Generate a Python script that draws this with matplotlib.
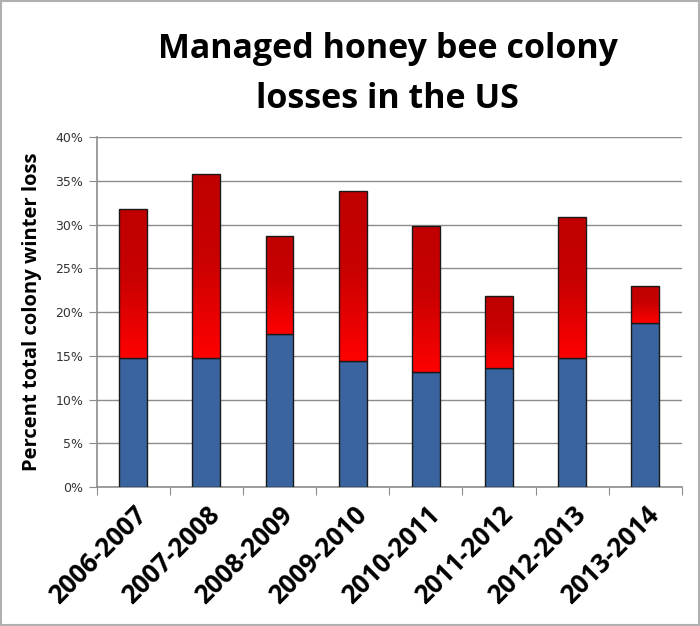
import numpy as np
import matplotlib
matplotlib.use("Agg")
import matplotlib.pyplot as plt
from matplotlib.colors import LinearSegmentedColormap
from matplotlib.patches import Rectangle

# winter seasons and losses (percent)
seasons = ['2006-2007', '2007-2008', '2008-2009', '2009-2010',
           '2010-2011', '2011-2012', '2012-2013', '2013-2014']
total_loss = [31.8, 35.8, 28.7, 33.8, 29.8, 21.8, 30.9, 23.0]
acceptable_loss = [14.7, 14.7, 17.5, 14.4, 13.1, 13.6, 14.8, 18.8]
title_lines = ['Managed honey bee colony', 'losses in the US']

plt.rcParams['font.family'] = ['Open Sans', 'DejaVu Sans']

fig = plt.figure(figsize=(7.0, 6.26), dpi=100)
ax = fig.add_axes([0.138, 0.222, 0.836, 0.559])

x = np.arange(len(seasons))
w = 0.38
blue = ax.bar(x, acceptable_loss, width=w, color='#3A64A0', edgecolor='#1a1a1a',
              linewidth=1.0, zorder=3)
extra = np.array(total_loss) - np.array(acceptable_loss)
red = ax.bar(x, extra, width=w, bottom=acceptable_loss, color='none',
             edgecolor='#1a1a1a', linewidth=1.0, zorder=4)

# gradient fill for the red part (bright at bottom, darker at top)
cmap = LinearSegmentedColormap.from_list(
    'redgrad', [(0.0, '#FF0000'), (0.55, '#C80000'), (1.0, '#C00000')])
grad = np.linspace(0, 1, 256).reshape(-1, 1)
for b in red:
    x0, y0 = b.get_x(), b.get_y()
    im = ax.imshow(grad, cmap=cmap, aspect='auto', origin='lower',
                   extent=[x0, x0 + b.get_width(), y0, y0 + b.get_height()],
                   zorder=3.5)
    im.set_clip_path(b)

ax.set_xlim(-0.5, len(seasons) - 0.5)
ax.set_ylim(0, 40)
ax.set_yticks(np.arange(0, 41, 5))
ax.set_yticklabels([f'{v}%' for v in range(0, 41, 5)], fontsize=9,
                   color='#333333', family=['DejaVu Sans'])
ax.yaxis.grid(True, color='#8c8c8c', linewidth=1.0, zorder=0)
ax.set_axisbelow(True)

ax.set_xticks(np.arange(len(seasons) + 1) - 0.5, minor=False)
ax.set_xticklabels([])
ax.set_xticks(x, minor=True)
ax.set_xticklabels(seasons, minor=True, rotation=45, ha='right',
                   rotation_mode='anchor', fontsize=18.5, fontweight='bold')
ax.tick_params(axis='x', which='minor', length=0, pad=10)
ax.tick_params(axis='x', which='major', length=6, color='#8c8c8c', direction='out')
ax.tick_params(axis='y', length=6, color='#8c8c8c', direction='out')

for s in ['top', 'right']:
    ax.spines[s].set_visible(False)
for s in ['left', 'bottom']:
    ax.spines[s].set_color('#8c8c8c')
    ax.spines[s].set_linewidth(1.2)

ax.set_ylabel('Percent total colony winter loss', fontsize=14.5,
              fontweight='bold', labelpad=10)

fig.text(0.554, 0.922, title_lines[0], ha='center', va='center',
         fontsize=24.5, fontweight='bold')
fig.text(0.554, 0.842, title_lines[1], ha='center', va='center',
         fontsize=24.5, fontweight='bold')

# light frame round the picture
fig.patches.append(Rectangle((0.002, 0.002), 0.996, 0.996, transform=fig.transFigure,
                             fill=False, edgecolor='#b0b0b0', linewidth=1.5))

fig.savefig('out.png', dpi=100)
